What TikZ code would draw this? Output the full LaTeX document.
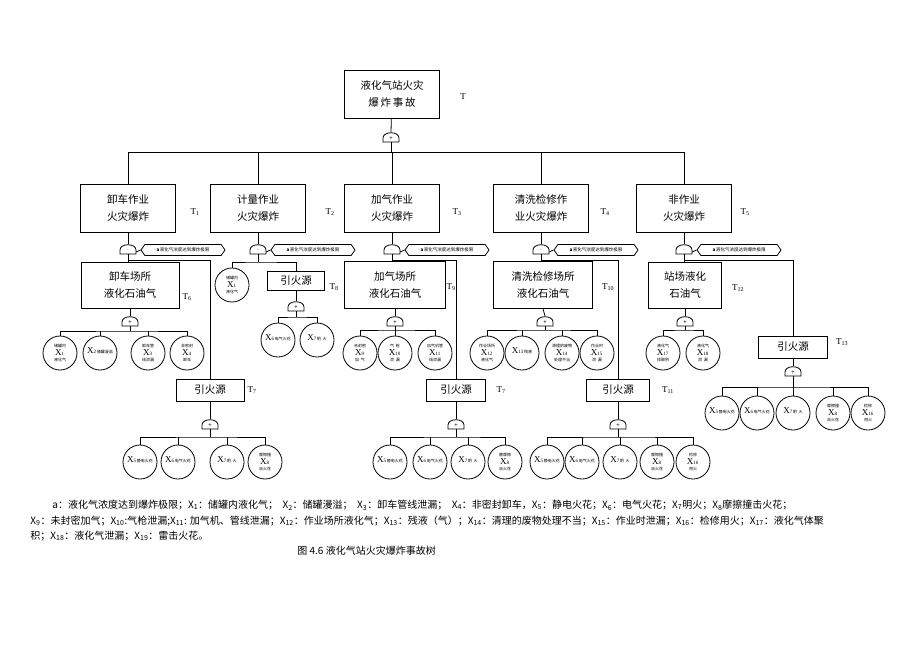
\documentclass[tikz,border=0pt]{standalone}
\usepackage{fontspec}
\setmainfont{Noto Sans CJK SC}
\newfontfamily\latinfont{Liberation Serif}
\usetikzlibrary{shapes.symbols, positioning}
\tikzset{
  evbox/.style={draw, thick, minimum width=95pt, minimum height=48pt, align=center, font=\fontsize{10.5}{17}\selectfont},
  firebox/.style={draw, thick, minimum width=68pt, minimum height=22pt, font=\fontsize{10.5}{12}\selectfont},
  tlabel/.style={font=\latinfont\fontsize{9}{10}\selectfont},
  event/.style={draw, thick, circle, minimum size=34pt, inner sep=0pt, align=center, font=\fontsize{9}{6}\selectfont},
  cond/.style={draw, signal, signal to=west and east, signal pointer angle=110, minimum width=84pt, minimum height=11pt, inner sep=1pt, font=\fontsize{4.5}{5}\selectfont},
  note/.style={anchor=west, inner sep=0pt, font=\fontsize{10}{11}\selectfont},
  gate/.pic={\draw[thick, fill=white] (-8,4) -- (-8,0) .. controls (-8,-7) and (8,-7) .. (8,0) -- (8,4) -- cycle;
    \node[font=\fontsize{6}{6}\selectfont, inner sep=0pt] at (0,0.5) {#1};}
}
\newcommand{\evfont}{\fontsize{4}{5}\selectfont}
\newcommand{\evt}[6]{\node[event] (#1) at (#2) {{\evfont #4}\\{\latinfont X\fontsize{5}{5}\selectfont#3}{\evfont\,#5}\\{\evfont #6}};}

\begin{document}
\begin{tikzpicture}[x=1pt, y=-1pt, thick]
\useasboundingbox (0,0) rectangle (920,651);
% top event
\node[evbox] (T) at (392,94) {液化气站火灾\\爆\,炸\,事\,故};
\node[tlabel] at (463,97) {T};
\draw (T) -- (391,132);
\pic at (391,138) {gate=+};
\coordinate (g0) at (391,138);
\coordinate (b0) at (391,152);
% second level
\node[evbox] (T1) at (128,208) {卸车作业\\火灾爆炸};
\node[evbox] (T2) at (258,208) {计量作业\\火灾爆炸};
\node[evbox] (T3) at (392,208) {加气作业\\火灾爆炸};
\node[evbox] (T4) at (541,208) {清洗检修作\\业火灾爆炸};
\node[evbox] (T5) at (684,208) {非作业\\火灾爆炸};
\foreach \n/\x in {1/195,2/330,3/457,4/605,5/745}
  \node[tlabel] at (\x,212) {T\textsubscript{\n}};
\draw (g0) ++(0,4) -- (b0);
\foreach \c in {T1,T2,T3,T4,T5}
  \draw (b0) -| (\c.north);
% AND gates with condition a
\foreach \c/\x in {1/128,2/258,3/392,4/541,5/684}{
  \draw (T\c.south) -- (\x,244);
  \pic at (\x,250) {gate=$\cdot$};
  \coordinate (a\c) at (\x,250);
  \node[cond] (h\c) at (\x+55,250) {\textbf{a}\,液化气浓度达到爆炸极限};
  \draw (a\c) ++(8,2) -- (h\c.west);
}
% branch T1
\node[evbox, minimum width=98pt, minimum height=46pt] (T6) at (130,285) {卸车场所\\液化石油气};
\node[tlabel] at (187,297) {T\textsubscript{6}};
\node[firebox] (T7a) at (210,390) {引火源};
\node[tlabel] at (252,390) {T\textsubscript{7}};
\draw (a1) ++(0,4) -- (T6.north -| a1);
\draw (a1) ++(0,10) -| (T7a.north);
\draw (T6.south) -- (130,316);
\pic at (130,322) {gate=+};
\coordinate (o6) at (130,322);
\coordinate (b6) at (130,331);
\evt{x1}{60,353}{1}{储罐内}{}{液化气}
\evt{x2}{100,353}{2}{}{储罐漫溢}{}
\evt{x3}{148,353}{3}{卸车管}{}{线泄漏}
\evt{x4}{187,353}{4}{非密封}{}{卸车}
\draw (o6) ++(0,4) -- (b6);
\draw (x1.north) |- (b6) -| (x4.north);
\foreach \c in {x2,x3} \draw (\c.north) -- (\c.north |- b6);
\draw (T7a.south) -- (210,419);
\pic at (210,425) {gate=+};
\coordinate (o7a) at (210,425);
\coordinate (b7a) at (210,437);
\evt{x5a}{140,462}{5}{}{静电火花}{}
\evt{x6a}{178,462}{6}{}{电气火花}{}
\evt{x7a}{227,462}{7}{}{明\ \ 火}{}
\evt{x8a}{265,462}{8}{摩擦撞}{}{击火花}
\draw (o7a) ++(0,4) -- (b7a);
\draw (x5a.north) |- (b7a) -| (x8a.north);
\foreach \c in {x6a,x7a} \draw (\c.north) -- (\c.north |- b7a);
% branch T2
\evt{x1b}{232,285}{1}{储罐内}{}{液化气}
\node[firebox, minimum width=57pt, minimum height=19pt] (T8) at (296,281) {引火源};
\node[tlabel] at (334,287) {T\textsubscript{8}};
\coordinate (b2) at (258,262);
\draw (a2) ++(0,4) -- (b2);
\draw (x1b.north) |- (b2) -| (T8.north);
\draw (T8.south) -- (296,301);
\pic at (296,307) {gate=+};
\coordinate (o8) at (296,307);
\coordinate (b8) at (296,317);
\evt{x6b}{278,340}{6}{}{电气火花}{}
\evt{x7b}{317,340}{7}{}{明\ \ 火}{}
\draw (o8) ++(0,4) -- (b8);
\draw (x6b.north) |- (b8) -| (x7b.north);
% branch T3
\node[evbox, minimum width=101pt, minimum height=47pt] (T9) at (395,285) {加气场所\\液化石油气};
\node[tlabel] at (451,287) {T\textsubscript{9}};
\node[firebox, minimum width=59pt] (T7b) at (456,390) {引火源};
\node[tlabel] at (501,390) {T\textsubscript{7}};
\draw (a3) ++(0,4) -- (T9.north -| a3);
\draw (a3) ++(0,10) -| (T7b.north);
\draw (T9.south) -- (395,316);
\pic at (395,322) {gate=+};
\coordinate (o9) at (395,322);
\coordinate (b9) at (395,330);
\evt{x9}{360,353}{9}{未封密}{}{加\ \ 气}
\evt{x10}{395,353}{10}{气\ \ 枪}{}{泄\ \ 漏}
\evt{x11}{435,353}{11}{加气机管}{}{线泄漏}
\draw (o9) ++(0,4) -- (b9);
\draw (x9.north) |- (b9) -| (x11.north);
\draw (x10.north) -- (b9);
\draw (T7b.south) -- (456,419);
\pic at (456,425) {gate=+};
\coordinate (o7b) at (456,425);
\coordinate (b7b) at (456,437);
\evt{x5b}{390,462}{5}{}{静电火花}{}
\evt{x6c}{430,462}{6}{}{电气火花}{}
\evt{x7c}{468,462}{7}{}{明\ \ 火}{}
\evt{x8b}{505,462}{8}{静摩擦}{}{击火花}
\draw (o7b) ++(0,4) -- (b7b);
\draw (x5b.north) |- (b7b) -| (x8b.north);
\foreach \c in {x6c,x7c} \draw (\c.north) -- (\c.north |- b7b);
% branch T4
\node[evbox, minimum width=99pt, minimum height=47pt] (T10) at (543,285) {清洗检修场所\\液化石油气};
\node[tlabel] at (608,287) {T\textsubscript{10}};
\node[firebox, minimum width=63pt] (T11) at (618,390) {引火源};
\node[tlabel] at (668,390) {T\textsubscript{11}};
\draw (a4) ++(0,4) -- (T10.north -| a4);
\draw (a4) ++(0,10) -| (T11.north);
\draw (T10.south) -- (545,316);
\pic at (545,322) {gate=+};
\coordinate (o10) at (545,322);
\coordinate (b10) at (545,330);
\evt{x12}{487,353}{12}{作业场所}{}{液化气}
\evt{x13}{522,353}{13}{}{残液}{}
\evt{x14}{562,353}{14}{清理的废物}{}{处理不当}
\evt{x15}{597,353}{15}{作业时}{}{泄\ \ 漏}
\draw (o10) ++(0,4) -- (b10);
\draw (x12.north) |- (b10) -| (x15.north);
\foreach \c in {x13,x14} \draw (\c.north) -- (\c.north |- b10);
\draw (T11.south) -- (618,419);
\pic at (618,425) {gate=+};
\coordinate (o11) at (618,425);
\coordinate (b11) at (618,437);
\evt{x5c}{547,462}{5}{}{静电火花}{}
\evt{x6d}{582,462}{6}{}{电气火花}{}
\evt{x7d}{620,462}{7}{}{明\ \ 火}{}
\evt{x8c}{657,462}{8}{摩擦撞}{}{击火花}
\evt{x16a}{693,462}{16}{检修}{}{用火}
\draw (o11) ++(0,4) -- (b11);
\draw (x5c.north) |- (b11) -| (x16a.north);
\foreach \c in {x6d,x7d,x8c} \draw (\c.north) -- (\c.north |- b11);
% branch T5
\node[evbox, minimum width=73pt, minimum height=46pt] (T12) at (685,285) {站场液化\\石油气};
\node[tlabel] at (738,288) {T\textsubscript{12}};
\node[firebox, minimum width=69pt] (T13) at (793,347) {引火源};
\node[tlabel] at (842,342) {T\textsubscript{13}};
\draw (a5) ++(0,4) -- (T12.north -| a5);
\draw (a5) ++(0,10) -| (T13.north);
\draw (T12.south) -- (685,316);
\pic at (685,322) {gate=+};
\coordinate (o12) at (685,322);
\coordinate (b12) at (685,330);
\evt{x17}{663,353}{17}{液化气}{}{体聚积}
\evt{x18}{703,353}{18}{液化气}{}{泄\ \ 漏}
\draw (o12) ++(0,4) -- (b12);
\draw (x17.north) |- (b12) -| (x18.north);
\draw (T13.south) -- (793,366);
\pic at (793,372) {gate=+};
\coordinate (o13) at (793,372);
\coordinate (b13) at (793,387);
\evt{x5d}{722,413}{5}{}{静电火花}{}
\evt{x6e}{757,413}{6}{}{电气火花}{}
\evt{x7e}{793,413}{7}{}{明\ \ 火}{}
\evt{x8d}{833,413}{8}{摩擦撞}{}{击火花}
\evt{x16b}{868,413}{16}{检修}{}{用火}
\draw (o13) ++(0,4) -- (b13);
\draw (x5d.north) |- (b13) -| (x16b.north);
\foreach \c in {x6e,x7e,x8d} \draw (\c.north) -- (\c.north |- b13);
% legend
\node[note] (n1) at (52,505) {a：液化气浓度达到爆炸极限；X\textsubscript{1}：储罐内液化气；\ \ X\textsubscript{2}：储罐漫溢；\ \ X\textsubscript{3}：卸车管线泄漏；\ \ X\textsubscript{4}：非密封卸车，X\textsubscript{5}：静电火花；X\textsubscript{6}：电气火花；X\textsubscript{7}明火；X\textsubscript{8}摩擦撞击火花；};
\node[note] (n2) at (30,521) {X\textsubscript{9}：未封密加气；X\textsubscript{10}:气枪泄漏;X\textsubscript{11}: 加气机、管线泄漏；X\textsubscript{12}：作业场所液化气；X\textsubscript{13}：残液（气）；X\textsubscript{14}：清理的废物处理不当；X\textsubscript{15}：作业时泄漏；X\textsubscript{16}：检修用火；X\textsubscript{17}：液化气体聚};
\node[note] (n3) at (30,536) {积；X\textsubscript{18}：液化气泄漏；X\textsubscript{19}：雷击火花。};
\node[note] (cap) at (297,551) {图 4.6 液化气站火灾爆炸事故树};
\end{tikzpicture}
\end{document}
